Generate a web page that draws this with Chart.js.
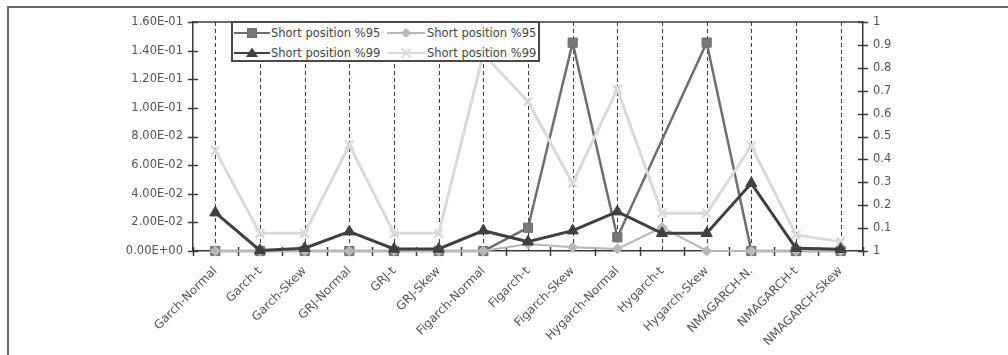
<!DOCTYPE html>
<html>
<head>
<meta charset="utf-8">
<script src="https://cdn.jsdelivr.net/npm/chart.js@4/dist/chart.umd.min.js"></script>
<style>
  html, body { margin: 0; padding: 0; background: #fff; }
  #wrap { position: relative; width: 1008px; height: 355px; overflow: hidden; }
  #frame { position: absolute; left: 7px; top: 6px; width: 1100px; height: 500px;
           border: 2px solid #666; box-sizing: border-box; pointer-events: none; }
  canvas { position: absolute; left: 0; top: 0; }
  #legend { position: absolute; left: 231px; top: 21px; width: 309px; height: 41px;
            box-sizing: border-box; border: 2px solid #4a4a4a; background: #fff;
            font-family: "DejaVu Sans", sans-serif; font-size: 11.5px; color: #454545; }
  .item { position: absolute; height: 16px; line-height: 16px; white-space: nowrap; }
  .item svg { position: absolute; left: 0; top: 0; }
  .item span { position: absolute; top: 0; }
</style>
</head>
<body>
<div id="wrap">
  <canvas id="chart" width="1008" height="355"></canvas>
  <div id="frame"></div>
  <div id="legend"></div>
</div>
<script>
// Model names along the x axis
const categories = [
  'Garch-Normal', 'Garch-t', 'Garch-Skew', 'GRJ-Normal', 'GRJ-t', 'GRJ-Skew',
  'Figarch-Normal', 'Figarch-t', 'Figarch-Skew', 'Hygarch-Normal', 'Hygarch-t',
  'Hygarch-Skew', 'NMAGARCH-N.', 'NMAGARCH-t', 'NMAGARCH-Skew'
];

// Left-axis series
const short95Left = [0, 0, 0, 0, 0, 0, 0, 0.0163, 0.1456, 0.0096, null, 0.1456, 0, 0, 0];
const short99Left = [0.0268, 0.0004, 0.0019, 0.0135, 0.0014, 0.0014, 0.0142, 0.0065,
                     0.0142, 0.0275, 0.0124, 0.0124, 0.0473, 0.0019, 0.0013];

// Right-axis series
const short95Right = [0, 0, 0, 0, 0, 0, 0, 0.031, 0.016, 0.009, 0.103, 0, 0, 0, 0];
const short99Right = [0.438, 0.077, 0.077, 0.463, 0.077, 0.077, 0.86, 0.652, 0.296,
                      0.706, 0.165, 0.165, 0.4585, 0.07, 0.041];

// Axis tick labels
const leftTickLabels = ['0.00E+00', '2.00E-02', '4.00E-02', '6.00E-02', '8.00E-02',
                        '1.00E-01', '1.20E-01', '1.40E-01', '1.60E-01'];
const rightTickLabels = ['1', '0.1', '0.2', '0.3', '0.4', '0.5', '0.6', '0.7', '0.8', '0.9', '1'];

const seriesNames = ['Short position %95', 'Short position %95', 'Short position %99', 'Short position %99'];

const FONT = { family: '"DejaVu Sans", sans-serif', size: 11.5 };
const XFONT = { family: '"DejaVu Sans", sans-serif', size: 12 };
const TEXT = '#555';
const AXIS = '#3a3a3a';

// Dashed category guides, crossing tick marks and the top frame of the plot
const axisDecor = {
  id: 'axisDecor',
  beforeDatasetsDraw(chart) {
    const { ctx, chartArea: a, scales } = chart;
    const x = scales.x, yl = scales.y, yr = scales.y1;
    ctx.save();
    // vertical dashed guides at each category
    ctx.strokeStyle = '#3c3c3c';
    ctx.lineWidth = 1;
    ctx.setLineDash([4, 3]);
    for (let i = 0; i < categories.length; i++) {
      const px = Math.round(x.getPixelForValue(i)) + 0.5;
      ctx.beginPath();
      ctx.moveTo(px, a.top);
      ctx.lineTo(px, a.bottom);
      ctx.stroke();
    }
    ctx.setLineDash([]);
    ctx.strokeStyle = AXIS;
    ctx.lineWidth = 1.5;
    // top frame line
    ctx.beginPath();
    ctx.moveTo(a.left, a.top);
    ctx.lineTo(a.right, a.top);
    ctx.stroke();
    // x ticks between categories
    const step = x.getPixelForValue(1) - x.getPixelForValue(0);
    for (let i = 0; i <= categories.length; i++) {
      const px = Math.round(x.getPixelForValue(i) - step / 2) + 0.5;
      ctx.beginPath();
      ctx.moveTo(px, a.bottom - 4);
      ctx.lineTo(px, a.bottom + 5);
      ctx.stroke();
    }
    // y ticks crossing both vertical axes
    yl.ticks.forEach((t) => {
      const py = Math.round(yl.getPixelForValue(t.value)) + 0.5;
      ctx.beginPath();
      ctx.moveTo(a.left - 5, py);
      ctx.lineTo(a.left + 5, py);
      ctx.stroke();
    });
    yr.ticks.forEach((t) => {
      const py = Math.round(yr.getPixelForValue(t.value)) + 0.5;
      ctx.beginPath();
      ctx.moveTo(a.right - 5, py);
      ctx.lineTo(a.right + 5, py);
      ctx.stroke();
    });
    ctx.restore();
  }
};

const chart = new Chart(document.getElementById('chart'), {
  type: 'line',
  data: {
    labels: categories,
    datasets: [
      {
        label: seriesNames[0], data: short95Left, yAxisID: 'y', order: 4,
        borderColor: '#6e6e6e', backgroundColor: '#6e6e6e', borderWidth: 2.5,
        pointStyle: 'rect', pointRadius: 6.5, pointBorderWidth: 1,
        pointBorderColor: '#6e6e6e', pointBackgroundColor: '#777',
        spanGaps: true, tension: 0, clip: false
      },
      {
        label: seriesNames[1], data: short95Right, yAxisID: 'y1', order: 2,
        borderColor: '#b7b7b7', backgroundColor: '#b7b7b7', borderWidth: 2,
        pointStyle: 'rectRot', pointRadius: 5, pointBorderWidth: 1,
        pointBorderColor: '#b7b7b7', pointBackgroundColor: '#b7b7b7',
        tension: 0, clip: false
      },
      {
        label: seriesNames[2], data: short99Left, yAxisID: 'y', order: 1,
        borderColor: '#404040', backgroundColor: '#404040', borderWidth: 3,
        pointStyle: 'triangle', pointRadius: 6.5, pointBorderWidth: 1,
        pointBorderColor: '#404040', pointBackgroundColor: '#404040',
        tension: 0, clip: false
      },
      {
        label: seriesNames[3], data: short99Right, yAxisID: 'y1', order: 3,
        borderColor: '#dadada', backgroundColor: '#dadada', borderWidth: 3,
        pointStyle: 'crossRot', pointRadius: 6, pointBorderWidth: 2.5,
        pointBorderColor: '#dadada', pointBackgroundColor: '#dadada',
        tension: 0, clip: false
      }
    ]
  },
  options: {
    responsive: false,
    devicePixelRatio: 1,
    animation: false,
    layout: { padding: { top: 22, left: 0, right: 0, bottom: 0 } },
    plugins: { legend: { display: false }, tooltip: { enabled: false } },
    scales: {
      x: {
        type: 'category',
        offset: true,
        grid: { display: false, drawTicks: false },
        border: { display: true, color: AXIS, width: 1.5 },
        ticks: {
          autoSkip: false, maxRotation: 45, minRotation: 45,
          font: XFONT, color: TEXT, padding: 13
        },
        afterFit(s) { s.height = 104; }
      },
      y: {
        position: 'left',
        min: 0, max: 0.16,
        grid: { display: false, drawTicks: true, tickLength: 8 },
        border: { display: true, color: AXIS, width: 1.5 },
        ticks: {
          stepSize: 0.02, font: FONT, color: TEXT, padding: 2,
          callback: (v, i) => leftTickLabels[i]
        },
        afterFit(s) { s.width = 193; }
      },
      y1: {
        position: 'right',
        min: 0, max: 1,
        grid: { display: false, drawTicks: true, tickLength: 8 },
        border: { display: true, color: AXIS, width: 1.5 },
        ticks: {
          stepSize: 0.1, font: FONT, color: TEXT, padding: 2,
          callback: (v, i) => rightTickLabels[i]
        },
        afterFit(s) { s.width = 145; }
      }
    }
  },
  plugins: [axisDecor]
});

// Legend box laid over the plot, two entries per row
const legendIcons = [
  '<line x1="0" y1="8" x2="36" y2="8" stroke="#6e6e6e" stroke-width="2"/><rect x="13.5" y="3.5" width="9" height="9" fill="#777" stroke="#6e6e6e"/>',
  '<line x1="0" y1="8" x2="38" y2="8" stroke="#b7b7b7" stroke-width="2"/><polygon points="19,3 24,8 19,13 14,8" fill="#b7b7b7"/>',
  '<line x1="0" y1="8" x2="36" y2="8" stroke="#404040" stroke-width="2"/><polygon points="18,2.5 24,12 12,12" fill="#404040"/>',
  '<line x1="0" y1="8" x2="38" y2="8" stroke="#dadada" stroke-width="2"/><path d="M14.5,3.5 L23.5,12.5 M23.5,3.5 L14.5,12.5" stroke="#dadada" stroke-width="2"/>'
];
const legendSlots = [
  { left: 1, top: 2, textLeft: 38 },
  { left: 154, top: 2, textLeft: 194 },
  { left: 1, top: 22, textLeft: 38 },
  { left: 154, top: 22, textLeft: 194 }
];
const legendEl = document.getElementById('legend');
seriesNames.forEach((name, i) => {
  const slot = legendSlots[i];
  const item = document.createElement('div');
  item.className = 'item';
  item.style.left = slot.left + 'px';
  item.style.top = slot.top + 'px';
  item.innerHTML = '<svg width="40" height="16">' + legendIcons[i] + '</svg>' +
    '<span style="left:' + (slot.textLeft - slot.left) + 'px">' + name + '</span>';
  legendEl.appendChild(item);
});
</script>
</body>
</html>
